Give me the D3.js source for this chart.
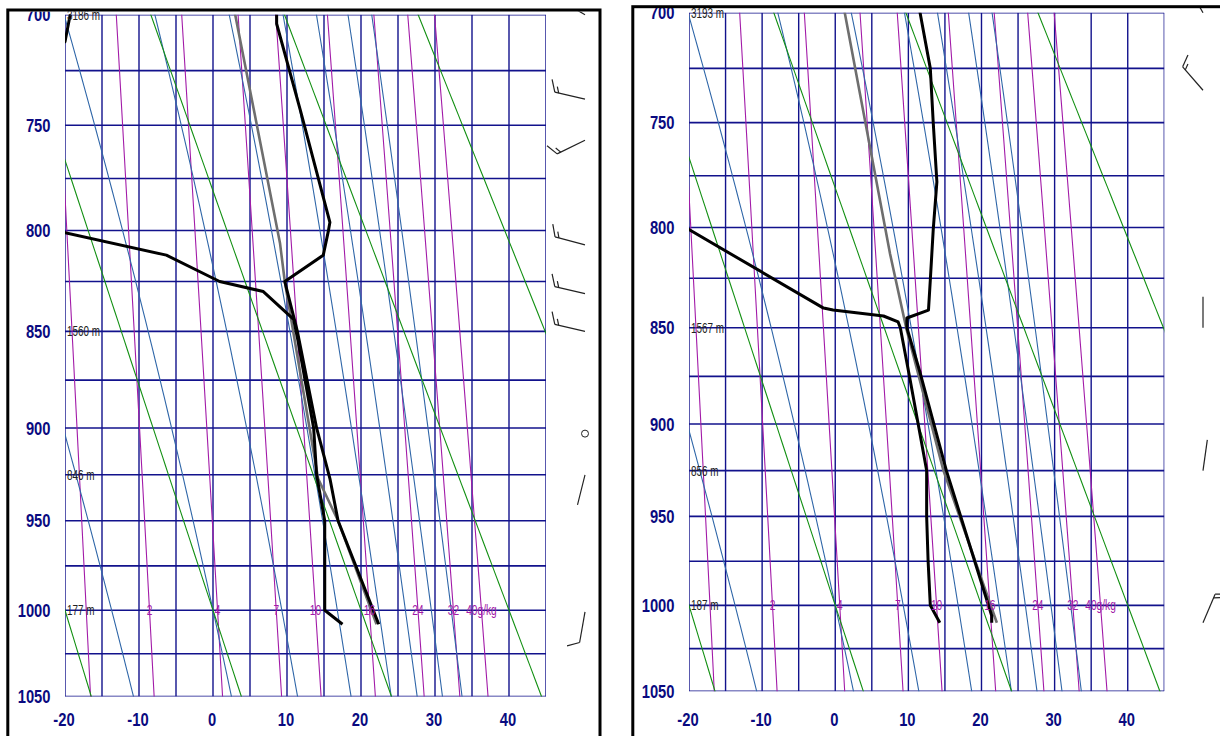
<!DOCTYPE html>
<html><head><meta charset="utf-8">
<script src="https://cdn.jsdelivr.net/npm/d3@7"></script>
<style>body{margin:0;background:#fff}svg{display:block}</style>
</head><body><svg id="c" width="1220" height="736"></svg>
<script>
// ---------- data ----------
const gridTemps = [-20,-15,-10,-5,0,5,10,15,20,25,30,35,40,45];
const tempLabels = [-20,-10,0,10,20,30,40];
const gridPressures = [700,725,750,775,800,825,850,875,900,925,950,975,1000,1025,1050];
const pressureLabels = [700,750,800,850,900,950,1000,1050];
const dryAdiabats = [-20,0,20,40,60];                       // theta, degC at 1000 hPa
const moistAdiabats = [-13.7,0,9.3,16.8,22.4,26,29.5,32.2]; // theta-w, degC
const mixingRatios = [1,2,4,7,10,16,24,32,40];              // g/kg
const mixingLabels = ["","2","4","7","10","16","24","32","40g/kg"];
const heightLevels = [700,850,925,1000];

// left sounding
const leftHeights = ["3186 m","1560 m","846 m","177 m"];
const leftTempP = [1008,950,927,900,850,825,812,800,796,743,704,700,690];
const leftTempT = [22.4,16.9,15.8,14.0,11.4,9.7,14.9,15.6,15.8,11.8,8.6,8.6,8.6];
const leftDewP = [1008,1000,950,925,900,855,844,830,825,812,801,790,760,712,700,690];
const leftDewT = [17.5,15.1,15.1,14.0,13.6,11.5,10.9,6.8,0.9,-6.3,-20,-25,-40,-20,-19.3,-19];
const leftParcelP = [1008,950,927,825,806,700,690];
const leftParcelT = [22.1,16.9,14.2,9.7,9.05,3.0,2.4];
const leftWindP   = [700,738,757,807,831,850,903,925,1001];
const leftWindDir = [300,283,244,285,283,283,0,194,190];
const leftWindSpd = [10,15,15,15,15,15,0,2,10];

// right sounding
const rightHeights = ["3193 m","1567 m","856 m","187 m"];
const rightTempP = [1010,1006,925,873,850,845,841,826,801,778,750,725,700,690];
const rightTempT = [21.4,21.4,15.2,11.6,9.8,9.8,12.75,13.0,13.4,13.9,13.4,13.0,11.6,11.2];
const rightDewP = [1010,1000,975,950,925,876,850,847,844,841,840,801,780];
const rightDewT = [14.3,13.0,12.7,12.5,12.5,10.2,8.9,8.6,6.6,-0.3,-1.6,-20,-30];
const rightParcelP = [1010,925,850,813,700,690];
const rightParcelT = [22.1,14.8,9.7,7.5,1.3,0.8];
const rightWindP   = [700,735,850,925,1010];
const rightWindDir = [330,319,0,8,23];
const rightWindSpd = [10,15,2,2,15];

// ---------- physics helpers ----------
const KAPPA = 0.2857;
function satVap(Tc){return 6.112*Math.exp(17.67*Tc/(Tc+243.5));}
function mixT(w,p){const r=w/1000;const e=r*p/(0.622+r);const l=Math.log(e/6.112);return 243.5*l/(17.67-l);}
function dryT(th,p){return (th+273.15)*Math.pow(p/1000,KAPPA)-273.15;}
function moistCurve(thw){
  const Rd=287.04,cp=1005.7,Lv=2.501e6,eps=0.622;
  const f=(T,p)=>{const e=satVap(T-273.15);const rs=eps*e/(p-e);return (Rd*T+Lv*rs)/(p*(cp+Lv*Lv*rs*eps/(Rd*T*T)));};
  const run=(h,pEnd)=>{let T=thw+273.15,p=1000;const pts=[[p,T-273.15]];
    while(h<0?p>pEnd:p<pEnd){const k1=f(T,p);const k2=f(T+h/2*k1,p+h/2);T+=h*k2;p+=h;pts.push([p,T-273.15]);}
    return pts;};
  return run(-1,680).reverse().concat(run(1,1070).slice(1));
}
const zip=(a,b)=>a.map((v,i)=>[v,b[i]]);

// ---------- panels ----------
const panels = [
  {xr:[65,546], yr:[14.7,696.5], frame:[7.8,10,592.2,800], clip:[9.3,11.5,589.2,740],
   ylabX:50.5, heights:leftHeights, temp:zip(leftTempP,leftTempT), dew:zip(leftDewP,leftDewT),
   parcel:zip(leftParcelP,leftParcelT), windP:leftWindP, windDir:leftWindDir, windSpd:leftWindSpd, barbX:585},
  {xr:[689,1164.3], yr:[12.7,691.2], frame:[632.8,6.7,700,800], clip:[634.2,8,600,740],
   ylabX:674.5, heights:rightHeights, temp:zip(rightTempP,rightTempT), dew:zip(rightDewP,rightDewT),
   parcel:zip(rightParcelP,rightParcelT), windP:rightWindP, windDir:rightWindDir, windSpd:rightWindSpd, barbX:1203}
];

const svg = d3.select("#c");
const defs = svg.append("defs");
const GRID="#12128c", NAVY="#0a0a80";

function sText(g,x,y,txt,o){
  g.append("text").attr("transform",`translate(${x},${y}) scale(${o.sx},1)`)
   .attr("text-anchor",o.anchor).attr("font-family","'Liberation Sans',Arial,sans-serif")
   .attr("font-size",o.size).attr("font-weight",o.weight||"normal").attr("fill",o.fill).text(txt);
}

panels.forEach((P,i)=>{
  const x = d3.scaleLinear().domain([-20,45]).range(P.xr);
  const y = d3.scalePow().exponent(KAPPA).domain([700,1050]).range(P.yr);
  const [cx,cy,cw,ch]=P.clip;
  defs.append("clipPath").attr("id","pc"+i).append("rect").attr("x",cx).attr("y",cy).attr("width",cw).attr("height",ch);
  defs.append("clipPath").attr("id","plot"+i).append("rect")
     .attr("x",P.xr[0]).attr("y",P.yr[0]).attr("width",P.xr[1]-P.xr[0]).attr("height",P.yr[1]-P.yr[0]);
  const G = svg.append("g").attr("clip-path",`url(#pc${i})`);
  const plot = G.append("g").attr("clip-path",`url(#plot${i})`);
  const line = d3.line().x(d=>x(d[1])).y(d=>y(d[0]));

  // grid
  plot.selectAll(".vg").data(gridTemps).join("line")
    .attr("x1",d=>x(d)).attr("x2",d=>x(d)).attr("y1",P.yr[0]).attr("y2",P.yr[1])
    .attr("stroke",GRID).attr("stroke-width",1.4);
  plot.selectAll(".hg").data(gridPressures).join("line")
    .attr("x1",P.xr[0]).attr("x2",P.xr[1]).attr("y1",d=>y(d)).attr("y2",d=>y(d))
    .attr("stroke",GRID).attr("stroke-width",1.6);

  const pr = d3.range(680,1071,5);
  plot.selectAll(".mr").data(mixingRatios).join("path")
    .attr("d",w=>line(pr.map(p=>[p,mixT(w,p)]))).attr("fill","none")
    .attr("stroke","#a21aa8").attr("stroke-width",1.1);
  plot.selectAll(".ma").data(moistAdiabats).join("path")
    .attr("d",t=>line(moistCurve(t).filter((d,k)=>k%4===0))).attr("fill","none")
    .attr("stroke","#2f66a8").attr("stroke-width",1.1);
  plot.selectAll(".da").data(dryAdiabats).join("path")
    .attr("d",t=>line(pr.map(p=>[p,dryT(t,p)]))).attr("fill","none")
    .attr("stroke","#139013").attr("stroke-width",1.1);

  mixingRatios.forEach((w,k)=>{ if(mixingLabels[k]) sText(G,x(mixT(w,1000)),y(1000)+5,mixingLabels[k],{sx:0.68,size:15,anchor:"middle",fill:"#a21aa8"}); });
  heightLevels.forEach((p,k)=>sText(G,P.xr[0]+2,y(p)+5,P.heights[k],{sx:0.66,size:15,anchor:"start",fill:"#222"}));

  plot.append("path").attr("d",line(P.parcel)).attr("fill","none").attr("stroke","#6e6e6e").attr("stroke-width",2.6).attr("stroke-linejoin","round");
  plot.append("path").attr("d",line(P.dew)).attr("fill","none").attr("stroke","#000").attr("stroke-width",3).attr("stroke-linejoin","round");
  plot.append("path").attr("d",line(P.temp)).attr("fill","none").attr("stroke","#000").attr("stroke-width",3).attr("stroke-linejoin","round");

  pressureLabels.forEach(p=>sText(G,P.ylabX,y(p)+6.6,String(p),{sx:0.82,size:18,anchor:"end",fill:NAVY,weight:"bold"}));
  tempLabels.forEach(t=>sText(G,x(t)-1,726,String(t),{sx:0.82,size:18,anchor:"middle",fill:NAVY,weight:"bold"}));

  // wind barbs
  const L=31, BL=13, rot=65*Math.PI/180;
  P.windP.forEach((p,k)=>{
    const sx=P.barbX, sy=y(p), spd=P.windSpd[k], dir=P.windDir[k]*Math.PI/180;
    if(spd===0){G.append("circle").attr("cx",sx).attr("cy",sy).attr("r",3.5).attr("fill","none").attr("stroke","#222").attr("stroke-width",1);return;}
    const ux=Math.sin(dir), uy=-Math.cos(dir);
    const ex=sx+L*ux, ey=sy+L*uy;
    const g=G.append("g").attr("stroke","#222").attr("stroke-width",1.2).attr("fill","none");
    g.append("line").attr("x1",sx).attr("y1",sy).attr("x2",ex).attr("y2",ey);
    const bx=ux*Math.cos(rot)-uy*Math.sin(rot), by=ux*Math.sin(rot)+uy*Math.cos(rot);
    let s=spd, pos=0;
    while(s>=10){const px=ex-pos*ux,py=ey-pos*uy;g.append("line").attr("x1",px).attr("y1",py).attr("x2",px+BL*bx).attr("y2",py+BL*by);s-=10;pos+=4;}
    if(s>=5){if(pos===0)pos=4;const px=ex-pos*ux,py=ey-pos*uy;g.append("line").attr("x1",px).attr("y1",py).attr("x2",px+BL/2*bx).attr("y2",py+BL/2*by);}
  });

  svg.append("rect").attr("x",P.frame[0]).attr("y",P.frame[1]).attr("width",P.frame[2]).attr("height",P.frame[3])
    .attr("fill","none").attr("stroke","#000").attr("stroke-width",3);
});
</script></body></html>
